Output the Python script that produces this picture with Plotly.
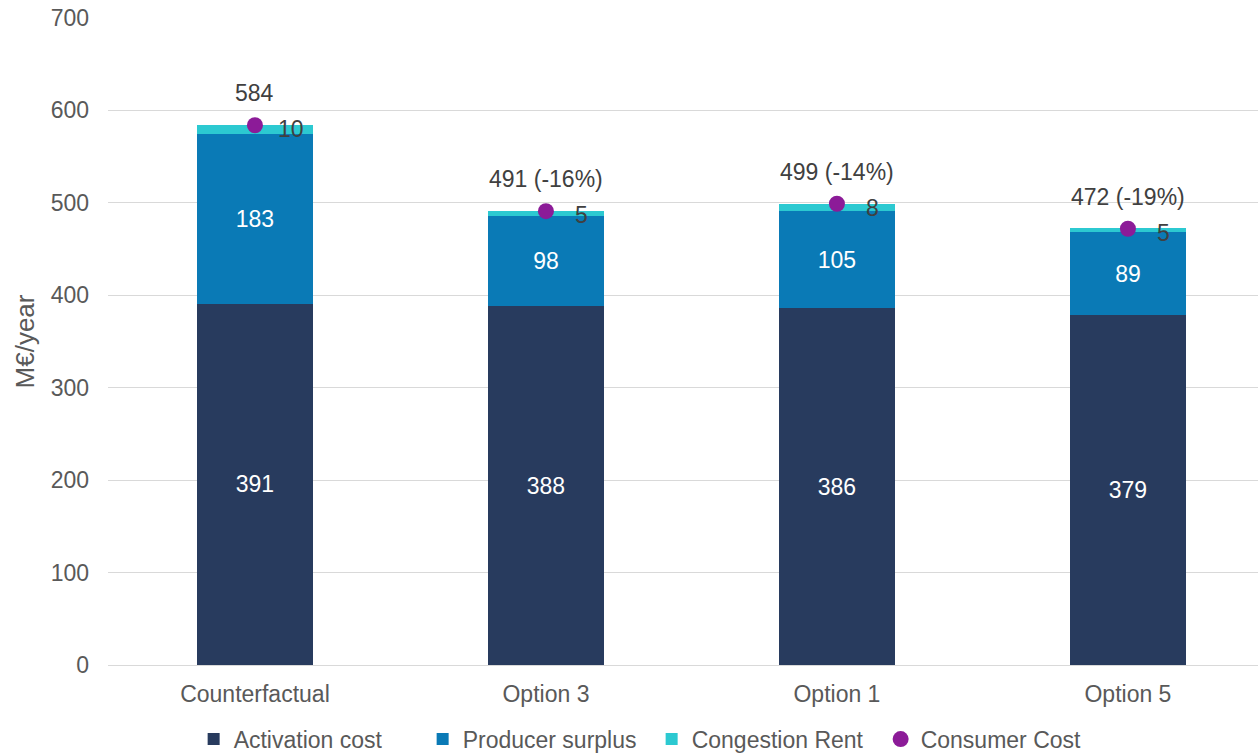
import plotly.graph_objects as go

# Cost breakdown per scenario (M€/year)
categories = ["Counterfactual", "Option 3", "Option 1", "Option 5"]
activation_cost = [391, 388, 386, 379]
producer_surplus = [183, 98, 105, 89]
congestion_rent = [10, 5, 8, 5]
consumer_cost = [584, 491, 499, 472]
consumer_labels = ["584", "491 (-16%)", "499 (-14%)", "472 (-19%)"]
y_ticks = [0, 100, 200, 300, 400, 500, 600, 700]

FONT = "Liberation Sans, Arial, sans-serif"
FS = 23
NAVY = "#283B5E"
BLUE = "#0A7AB6"
CYAN = "#2CC9D1"
PURPLE = "#8C1B98"

fig = go.Figure()

fig.add_trace(go.Bar(
    name="Activation cost", x=categories, y=activation_cost, marker_color=NAVY,
    marker_line_width=0,
    width=0.4, text=activation_cost, textposition="inside", insidetextanchor="middle",
    textfont=dict(color="white", size=FS, family=FONT), textangle=0,
))
fig.add_trace(go.Bar(
    name="Producer surplus", x=categories, y=producer_surplus, marker_color=BLUE,
    marker_line_width=0,
    width=0.4, text=producer_surplus, textposition="inside", insidetextanchor="middle",
    textfont=dict(color="white", size=FS, family=FONT), textangle=0,
))
fig.add_trace(go.Bar(
    name="Congestion Rent", x=categories, y=congestion_rent, marker_color=CYAN,
    marker_line_width=0,
    width=0.4, textposition="none",
))
fig.add_trace(go.Scatter(
    name="Consumer Cost", x=categories, y=consumer_cost, mode="markers",
    marker=dict(color=PURPLE, size=16),
))

# Total labels above each stack and congestion rent labels beside the dot
for cat, total, lab, cong in zip(categories, consumer_cost, consumer_labels, congestion_rent):
    fig.add_annotation(x=cat, y=total, text=lab, showarrow=False, yshift=32,
                       font=dict(size=FS, color="#404040", family=FONT))
    fig.add_annotation(x=cat, y=total, text=str(cong), showarrow=False,
                       xshift=36, yshift=-4,
                       font=dict(size=FS, color="#404040", family=FONT))

fig.update_layout(
    barmode="stack",
    width=1258, height=755,
    margin=dict(l=108, r=0, t=18, b=90),
    plot_bgcolor="white", paper_bgcolor="white",
    font=dict(family=FONT, size=FS, color="#595959"),
    showlegend=True,
    legend=dict(
        orientation="h", xref="container", yref="container",
        x=0.518, xanchor="center", y=0.021, yanchor="middle",
        font=dict(size=FS, color="#595959", family=FONT),
        itemwidth=30, tracegroupgap=0, traceorder="normal",
        entrywidth=184, entrywidthmode="pixels",
    ),
)
fig.update_xaxes(
    type="category", range=[-0.505, 3.447], showgrid=False,
    showline=True, linecolor="#D9D9D9", linewidth=1,
    ticks="", ticklabelstandoff=8,
    tickfont=dict(size=FS, color="#595959", family=FONT),
)
fig.update_yaxes(
    range=[0, 700], tickvals=y_ticks, showgrid=True, gridcolor="#D9D9D9",
    gridwidth=1, zeroline=False, showline=False, ticks="",
    ticklabelstandoff=18,
    tickfont=dict(size=FS, color="#595959", family=FONT),
    title=dict(text="M€/year", standoff=8,
               font=dict(size=26, color="#595959", family=FONT)),
)

fig.write_html("out.html")
